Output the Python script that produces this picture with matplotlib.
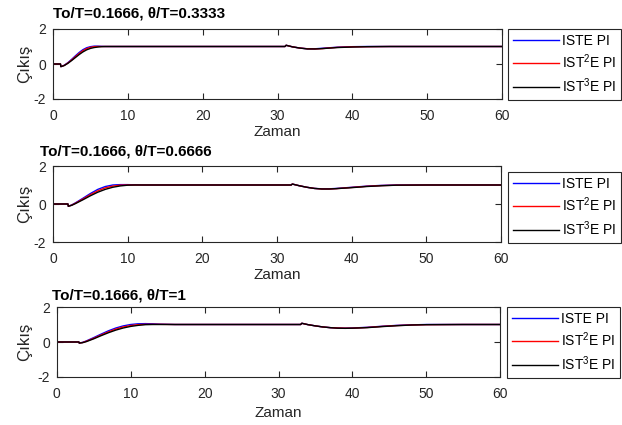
import matplotlib.pyplot as plt
import numpy as np

plt.rcParams['font.family'] = ['Liberation Sans', 'DejaVu Sans']
plt.rcParams['axes.unicode_minus'] = False
plt.rcParams['mathtext.default'] = 'regular'

# step + load disturbance responses, three delay ratios
t1 = [0, 1.0, 1.05, 1.5, 2, 2.5, 3, 3.5, 4, 4.5, 5, 5.5, 6, 6.5, 7, 8, 10, 20, 31.0, 31.15,
      32, 33, 34, 35, 36, 37, 38, 40, 42, 45, 60]
iste1 = [0, 0, -0.15, -0.07, 0.08, 0.27, 0.47, 0.66, 0.82, 0.93, 0.99, 1.02, 1.02, 1.01, 1.0, 1.0,
         1.0, 1.0, 1.0, 1.07, 0.98, 0.91, 0.87, 0.87, 0.9, 0.93, 0.96, 0.99, 1.0, 1.0, 1.0]
ist2e1 = [0, 0, -0.15, -0.08, 0.06, 0.23, 0.42, 0.6, 0.76, 0.88, 0.95, 0.99, 1.0, 1.0, 1.0, 1.0,
          1.0, 1.0, 1.0, 1.07, 0.98, 0.91, 0.87, 0.86, 0.88, 0.92, 0.95, 0.98, 0.99, 1.0, 1.0]
ist3e1 = [0, 0, -0.15, -0.09, 0.04, 0.2, 0.37, 0.54, 0.69, 0.81, 0.89, 0.94, 0.97, 0.99, 1.0, 1.0,
          1.0, 1.0, 1.0, 1.07, 0.98, 0.91, 0.86, 0.86, 0.88, 0.91, 0.94, 0.97, 0.99, 1.0, 1.0]

t2 = [0, 2.0, 2.05, 2.5, 3, 4, 5, 6, 7, 8, 9, 10, 11, 12, 14, 20, 31.9, 32.05, 33, 34, 35, 36,
      37, 38, 40, 42, 44, 46, 50, 60]
iste2 = [0, 0, -0.12, -0.05, 0.06, 0.3, 0.55, 0.77, 0.92, 1.0, 1.02, 1.02, 1.01, 1.0, 1.0, 1.0,
         1.0, 1.05, 0.96, 0.88, 0.82, 0.8, 0.8, 0.82, 0.88, 0.94, 0.98, 1.0, 1.0, 1.0]
ist2e2 = [0, 0, -0.12, -0.06, 0.04, 0.26, 0.49, 0.69, 0.85, 0.94, 0.99, 1.0, 1.0, 1.0, 1.0, 1.0,
          1.0, 1.05, 0.96, 0.88, 0.82, 0.79, 0.79, 0.81, 0.87, 0.93, 0.97, 0.99, 1.0, 1.0]
ist3e2 = [0, 0, -0.12, -0.07, 0.02, 0.22, 0.43, 0.62, 0.77, 0.88, 0.95, 0.99, 1.0, 1.0, 1.0, 1.0,
          1.0, 1.05, 0.96, 0.88, 0.82, 0.79, 0.79, 0.81, 0.86, 0.92, 0.96, 0.99, 1.0, 1.0]

t3 = [0, 3.0, 3.05, 3.5, 4, 5, 6, 7, 8, 9, 10, 11, 12, 13, 14, 16, 20, 33.0, 33.15, 34, 35, 36,
      37, 38, 39, 40, 42, 44, 46, 48, 50, 55, 60]
iste3 = [0, 0, -0.06, -0.02, 0.06, 0.25, 0.45, 0.64, 0.8, 0.92, 1.0, 1.04, 1.05, 1.04, 1.02, 1.0,
         1.0, 1.0, 1.07, 0.99, 0.92, 0.86, 0.82, 0.8, 0.79, 0.8, 0.84, 0.9, 0.95, 0.98, 1.0, 1.0, 1.0]
ist2e3 = [0, 0, -0.06, -0.03, 0.04, 0.21, 0.4, 0.58, 0.74, 0.86, 0.94, 0.99, 1.01, 1.01, 1.01, 1.0,
          1.0, 1.0, 1.07, 0.99, 0.92, 0.86, 0.82, 0.8, 0.79, 0.79, 0.83, 0.89, 0.94, 0.97, 0.99, 1.0, 1.0]
ist3e3 = [0, 0, -0.06, -0.04, 0.02, 0.18, 0.36, 0.53, 0.68, 0.8, 0.89, 0.95, 0.99, 1.0, 1.0, 1.0,
          1.0, 1.0, 1.07, 0.99, 0.92, 0.86, 0.82, 0.79, 0.78, 0.79, 0.82, 0.88, 0.93, 0.97, 0.99, 1.0, 1.0]

titles = ['To/T=0.1666, θ/T=0.3333', 'To/T=0.1666, θ/T=0.6666', 'To/T=0.1666, θ/T=1']
labels = ['ISTE PI', 'IST$^2$E PI', 'IST$^3$E PI']
colors = ['#0000ff', '#ff0000', '#000000']

panels = [(t1, [iste1, ist2e1, ist3e1]), (t2, [iste2, ist2e2, ist3e2]), (t3, [iste3, ist2e3, ist3e3])]

W, H = 622, 425
fig = plt.figure(figsize=(W / 100, H / 100), dpi=100)

# axes boxes in pixels: left, top, right, bottom
boxes = [(53, 29, 502, 99), (53, 166, 501, 242), (56.7, 307, 500.3, 377)]
title_pos = [(53, 13), (40, 152), (52, 296)]
leg_pos = [(508, 29), (508, 172), (507, 307)]
xlab_y = [132, 275, 413]

dark = '#262626'
for i, (t, ys) in enumerate(panels):
    l, tp, r, b = boxes[i]
    ax = fig.add_axes([l / W, 1 - b / H, (r - l) / W, (b - tp) / H])
    for y, c, lab in zip(ys, colors, labels):
        ax.plot(t, y, color=c, lw=1.0, label=lab)
    ax.set_xlim(0, 60)
    ax.set_ylim(-2, 2)
    ax.set_xticks([0, 10, 20, 30, 40, 50, 60])
    ax.set_yticks([-2, 0, 2])
    ax.tick_params(direction='in', top=True, right=True, length=4, width=0.8,
                   labelsize=10, colors=dark, labelcolor=dark)
    ax.tick_params(axis='x', pad=7)
    ax.tick_params(axis='y', pad=5)
    for s in ax.spines.values():
        s.set_color(dark)
        s.set_linewidth(0.8)
    ax.set_xlabel('Zaman', fontsize=11, color=dark, va='center')
    ax.set_ylabel('Çıkış', fontsize=12, color=dark, va='center')
    ax.xaxis.set_label_coords(0.5, (b - xlab_y[i]) / (b - tp))
    ax.yaxis.set_label_coords((25 - l) / (r - l), 0.5)
    fig.text(title_pos[i][0] / W, 1 - title_pos[i][1] / H, titles[i], fontsize=11,
             fontweight='bold', ha='left', va='center', color='black')
    lg = ax.legend(loc='upper left', bbox_to_anchor=(leg_pos[i][0] / W, 1 - leg_pos[i][1] / H),
                   bbox_transform=fig.transFigure, borderaxespad=0, fontsize=10,
                   handlelength=3.3, handletextpad=0.25, labelspacing=0.35, borderpad=0.35,
                   fancybox=False, framealpha=1)
    lg.get_frame().set_edgecolor(dark)
    lg.get_frame().set_linewidth(0.8)

fig.savefig('out.png', dpi=100)
